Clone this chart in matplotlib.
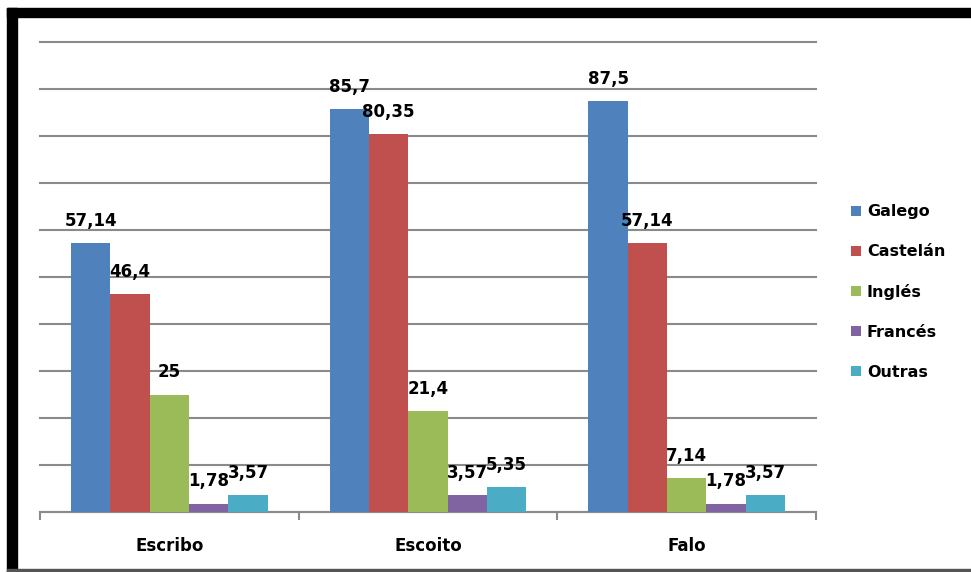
import matplotlib.pyplot as plt
from matplotlib.patches import Rectangle, Patch

categories = ["Escribo", "Escoito", "Falo"]
languages = ["Galego", "Castelán", "Inglés", "Francés", "Outras"]
galego = [57.14, 85.7, 87.5]
castelan = [46.4, 80.35, 57.14]
ingles = [25, 21.4, 7.14]
frances = [1.78, 3.57, 1.78]
outras = [3.57, 5.35, 3.57]
colors = ["#4F81BD", "#C0504D", "#9BBB59", "#8064A2", "#4BACC6"]

series = [galego, castelan, ingles, frances, outras]

plt.rcParams['font.family'] = 'DejaVu Sans'
plt.rcParams['font.weight'] = 'bold'

fig = plt.figure(figsize=(9.71, 5.72), dpi=100)
ax = fig.add_axes([40/971, 1 - 512/572, 776/971, 470/572])

w = 0.152
x = range(len(categories))
for i, (vals, col) in enumerate(zip(series, colors)):
    pos = [c + (i - 2) * w for c in x]
    bars = ax.bar(pos, vals, width=w, color=col, zorder=3)
    for b, v in zip(bars, vals):
        ax.annotate(f"{v:g}".replace(".", ","),
                    (b.get_x() + b.get_width() / 2, v),
                    xytext=(0, 9.5), textcoords="offset points",
                    ha="center", va="bottom", fontsize=12,
                    fontweight="bold", color="black", zorder=4)

ax.set_xlim(-0.5, 2.5)
ax.set_ylim(0, 100)
ax.set_yticks(range(0, 101, 10))
ax.yaxis.grid(True, color="#8a8a8a", linewidth=1.5, zorder=0)
for gl in ax.get_ygridlines():
    gl.set_clip_on(False)
ax.tick_params(axis="y", length=0, labelleft=False)

ax.set_xticks([-0.5, 0.5, 1.5, 2.5])
ax.set_xticklabels([])
ax.tick_params(axis="x", which="major", direction="out", length=6,
               color="#8a8a8a", width=1.5)
ax.set_xticks(list(x), minor=True)
ax.set_xticklabels(categories, minor=True, fontsize=12, fontweight="bold")
ax.tick_params(axis="x", which="minor", length=0, pad=18)

for s in ["left", "right", "top"]:
    ax.spines[s].set_visible(False)
ax.spines["bottom"].set_color("#8a8a8a")
ax.spines["bottom"].set_linewidth(1.5)

handles = [Patch(facecolor=c, label=l) for c, l in zip(colors, languages)]
fig.legend(handles=handles, loc="center left",
           bbox_to_anchor=(851/971, 1 - 292/572),
           frameon=False, labelspacing=1.55,
           handlelength=0.6, handleheight=0.6, handletextpad=0.4,
           borderpad=0, borderaxespad=0, prop={"weight": "bold", "size": 11.5})

# thick black frame on top and left, thin line at the bottom
fig.patches.append(Rectangle((7/971, 1 - 17/572), 1, 9/572,
                             transform=fig.transFigure, color="black"))
fig.patches.append(Rectangle((7/971, 0), 10/971, 1 - 8/572,
                             transform=fig.transFigure, color="black"))
fig.patches.append(Rectangle((7/971, 1/572), 1, 2/572,
                             transform=fig.transFigure, color="#555555"))

fig.savefig("out.png", dpi=100)
